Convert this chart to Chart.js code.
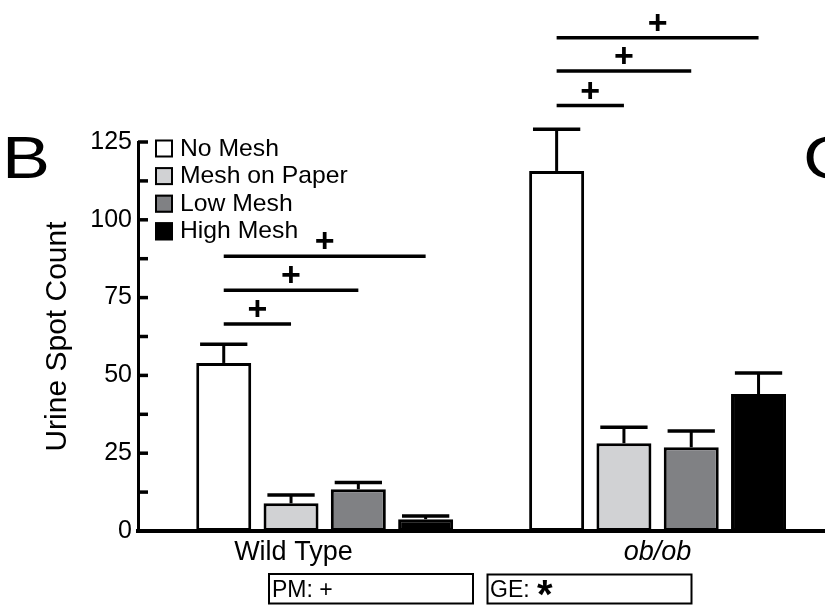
<!DOCTYPE html>
<html>
<head>
<meta charset="utf-8">
<script src="https://cdn.jsdelivr.net/npm/chart.js@4/dist/chart.umd.min.js"></script>
<style>
html,body{margin:0;padding:0;background:#fff;overflow:hidden}
#wrap{width:825px;height:605px;position:relative}
canvas{display:block}
</style>
</head>
<body>
<div id="wrap"><canvas id="c" width="825" height="605"></canvas></div>
<script>
// ---- data ----
const groups = ['Wild Type', 'ob/ob'];
const seriesNames = ['No Mesh', 'Mesh on Paper', 'Low Mesh', 'High Mesh'];
const noMesh = [54.0, 115.7];
const meshOnPaper = [8.9, 28.2];
const lowMesh = [13.4, 26.9];
const highMesh = [3.8, 44.0];
const noMeshErr = [6.0, 13.4];
const meshOnPaperErr = [2.7, 5.1];
const lowMeshErr = [2.2, 5.2];
const highMeshErr = [1.0, 6.8];
const yTickLabels = [0, 25, 50, 75, 100, 125];
// significance brackets: No Mesh vs series "sigTo" inside group "sigGroup", drawn at value "sigLevel"
const sigGroup = [0, 0, 0, 1, 1, 1];
const sigTo = [1, 2, 3, 1, 2, 3];
const sigLevel = [66.5, 77.4, 88.3, 136.7, 147.8, 158.5];
const sigMark = ['+', '+', '+', '+', '+', '+'];
const statNotes = ['PM: ', 'GE: '];
const statMarks = ['+', '*'];
const panelLetters = ['B', 'C'];

// ---- styling ----
const F = "'Liberation Sans', Arial, Helvetica, sans-serif";
const fills = ['#ffffff', '#d1d2d4', '#808184', '#000000'];
const seriesValues = [noMesh, meshOnPaper, lowMesh, highMesh];
const seriesErrors = [noMeshErr, meshOnPaperErr, lowMeshErr, highMeshErr];
const labelNudge = [-0.094, 0];

const datasets = seriesNames.map((name, k) => ({
  label: name,
  data: seriesValues[k].map((v, i) => ({ x: i, y: v })),
  errors: seriesErrors[k],
  backgroundColor: fills[k],
  borderColor: '#000',
  borderWidth: 3,
  borderSkipped: false
}));

function stretchedText(ctx, text, x, y, sx) {
  ctx.save();
  ctx.translate(x, y);
  ctx.scale(sx, 1);
  ctx.fillText(text, 0, 0);
  ctx.restore();
}

const decor = {
  id: 'decor',
  afterDatasetsDraw(chart) {
    const ctx = chart.ctx, ys = chart.scales.y;
    ctx.save();
    ctx.strokeStyle = '#000';
    chart.data.datasets.forEach((ds, k) => {
      chart.getDatasetMeta(k).data.forEach((bar, i) => {
        const top = ys.getPixelForValue(ds.data[i].y + ds.errors[i]);
        const capW = bar.width * 0.86;
        ctx.lineWidth = 3;
        ctx.beginPath(); ctx.moveTo(bar.x, bar.y); ctx.lineTo(bar.x, top); ctx.stroke();
        ctx.lineWidth = 3.5;
        ctx.beginPath(); ctx.moveTo(bar.x - capW / 2, top); ctx.lineTo(bar.x + capW / 2, top); ctx.stroke();
      });
    });
    ctx.restore();
  },
  afterDraw(chart) {
    const ctx = chart.ctx, ys = chart.scales.y, area = chart.chartArea;
    ctx.save();
    ctx.strokeStyle = '#000';
    ctx.fillStyle = '#000';
    // inward tick marks
    ctx.lineWidth = 3.5;
    ys.ticks.forEach(t => {
      const py = ys.getPixelForValue(t.value);
      ctx.beginPath(); ctx.moveTo(area.left, py); ctx.lineTo(area.left + 10, py); ctx.stroke();
    });
    // significance brackets
    sigLevel.forEach((lvl, j) => {
      const a = chart.getDatasetMeta(0).data[sigGroup[j]];
      const b = chart.getDatasetMeta(sigTo[j]).data[sigGroup[j]];
      const py = ys.getPixelForValue(lvl);
      ctx.lineWidth = 3.5;
      ctx.beginPath(); ctx.moveTo(a.x, py); ctx.lineTo(b.x, py); ctx.stroke();
      ctx.font = 'bold 34px ' + F;
      ctx.textAlign = 'center';
      ctx.textBaseline = 'alphabetic';
      ctx.fillText(sigMark[j], (a.x + b.x) / 2, py - 4);
    });
    // legend
    chart.data.datasets.forEach((ds, k) => {
      const cy = 148.5 + k * 27.6;
      ctx.fillStyle = ds.backgroundColor;
      ctx.fillRect(155, cy - 9, 18, 18);
      ctx.lineWidth = 2;
      ctx.strokeRect(156, cy - 8, 16, 16);
      ctx.fillStyle = '#000';
      ctx.font = '24px ' + F;
      ctx.textAlign = 'left';
      ctx.textBaseline = 'alphabetic';
      stretchedText(ctx, ds.label, 180, cy + 7, 1.03);
    });
    // statistics notes
    ctx.lineWidth = 2;
    ctx.strokeRect(269, 574, 204, 29.5);
    ctx.strokeRect(487.5, 574.5, 204, 29);
    ctx.font = '23px ' + F;
    ctx.textAlign = 'left';
    ctx.fillText(statNotes[0] + statMarks[0], 272, 597);
    ctx.fillText(statNotes[1], 490, 597);
    const w = ctx.measureText(statNotes[1]).width;
    ctx.font = 'bold 40px ' + F;
    ctx.fillText(statMarks[1], 490 + w + 1, 608);
    // panel letters
    ctx.font = '60px ' + F;
    stretchedText(ctx, panelLetters[0], 2, 178, 1.2);
    stretchedText(ctx, panelLetters[1], 803, 178, 1.2);
    ctx.restore();
  }
};

new Chart(document.getElementById('c'), {
  type: 'bar',
  data: { datasets },
  options: {
    responsive: false,
    animation: false,
    devicePixelRatio: 1,
    layout: { padding: { top: 142, left: 0, right: 0, bottom: 0 } },
    categoryPercentage: 0.8087,
    barPercentage: 0.817,
    plugins: { legend: { display: false }, tooltip: { enabled: false } },
    scales: {
      x: {
        type: 'linear',
        offset: false,
        bounds: 'data',
        min: -0.5608,
        max: 1.5029,
        z: 1,
        afterBuildTicks: s => { s.ticks = groups.map((g, i) => ({ value: i + labelNudge[i] })); },
        afterFit: s => { s.height = 74; },
        ticks: {
          autoSkip: false, maxRotation: 0, minRotation: 0, padding: 5, color: '#000',
          font: c => ({ family: F, size: 27, style: c.index === 1 ? 'italic' : 'normal' }),
          callback: (v, i) => groups[i]
        },
        grid: { display: false, drawTicks: false, offset: false },
        border: { display: true, color: '#000', width: 4 }
      },
      y: {
        type: 'linear',
        min: 0,
        max: 125,
        z: 1,
        afterFit: s => { s.width = 138; },
        ticks: {
          stepSize: 12.5, autoSkip: false, padding: 6, color: '#000',
          font: { family: F, size: 25 },
          callback: v => yTickLabels.includes(v) ? String(v) : ''
        },
        grid: { display: false, drawTicks: false },
        border: { display: true, color: '#000', width: 3 },
        title: {
          display: true, text: 'Urine Spot Count', color: '#000',
          font: { family: F, size: 30 }, padding: { top: 40, bottom: 0 }
        }
      }
    }
  },
  plugins: [decor]
});
</script>
</body>
</html>
